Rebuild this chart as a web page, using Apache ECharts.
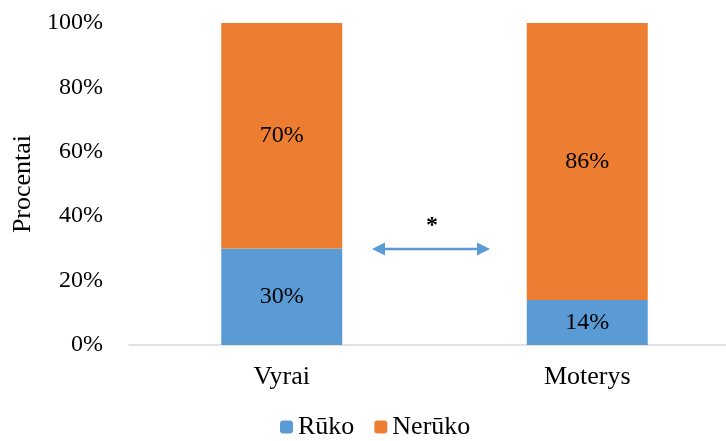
<!DOCTYPE html>
<html>
<head>
<meta charset="utf-8">
<script src="https://cdn.jsdelivr.net/npm/echarts@6/dist/echarts.min.js"></script>
<style>
  html, body { margin: 0; padding: 0; background: #fff; }
  #chart { width: 726px; height: 441px; }
</style>
</head>
<body>
<div id="chart"></div>
<script>
// Duomenys
const categories = ['Vyrai', 'Moterys'];
const ruko = [30, 14];
const neruko = [70, 86];
const seriesNames = ['Rūko', 'Nerūko'];

const font = '"Liberation Serif", "Times New Roman", serif';

const chart = echarts.init(document.getElementById('chart'));

const labelStyle = {
  show: true,
  position: 'inside',
  formatter: '{c}%',
  fontFamily: font,
  fontSize: 24,
  color: '#000'
};

chart.setOption({
  animation: false,
  textStyle: { fontFamily: font },
  grid: { left: 129, top: 23, width: 611, height: 322, outerBoundsMode: 'none' },
  legend: {
    bottom: -4,
    left: 275,
    itemWidth: 13,
    itemHeight: 13,
    itemGap: 20,
    textStyle: { fontFamily: font, fontSize: 26, color: '#000' },
    data: seriesNames
  },
  xAxis: {
    type: 'category',
    data: categories,
    axisLine: { lineStyle: { color: '#d9d9d9', width: 1.5 } },
    axisTick: { show: false },
    axisLabel: { fontFamily: font, fontSize: 26, color: '#000', margin: 19 }
  },
  yAxis: {
    type: 'value',
    min: 0,
    max: 100,
    interval: 20,
    name: 'Procentai',
    nameLocation: 'middle',
    nameRotate: 90,
    nameGap: 92,
    nameTextStyle: { fontFamily: font, fontSize: 26, color: '#000' },
    axisLine: { show: false },
    axisTick: { show: false },
    splitLine: { show: false },
    axisLabel: { formatter: '{value}%', fontFamily: font, fontSize: 24, color: '#000', margin: 26 }
  },
  series: [
    {
      name: seriesNames[0],
      type: 'bar',
      stack: 'total',
      barWidth: '39.6%',
      itemStyle: { color: '#5b9bd5' },
      label: labelStyle,
      data: ruko
    },
    {
      name: seriesNames[1],
      type: 'bar',
      stack: 'total',
      barWidth: '39.6%',
      itemStyle: { color: '#ed7d31' },
      label: labelStyle,
      data: neruko
    }
  ],
  graphic: [
    {
      type: 'line',
      shape: { x1: 382, y1: 249, x2: 480, y2: 249 },
      style: { stroke: '#5b9bd5', lineWidth: 2.5 }
    },
    {
      type: 'polygon',
      shape: { points: [[372, 249], [385, 242.5], [385, 255.5]] },
      style: { fill: '#5b9bd5' }
    },
    {
      type: 'polygon',
      shape: { points: [[490, 249], [477, 242.5], [477, 255.5]] },
      style: { fill: '#5b9bd5' }
    },
    {
      type: 'text',
      x: 432,
      y: 226,
      style: { text: '*', fontFamily: font, fontSize: 24, fontWeight: 'bold', fill: '#000', align: 'center', verticalAlign: 'middle' }
    }
  ]
});
</script>
</body>
</html>
